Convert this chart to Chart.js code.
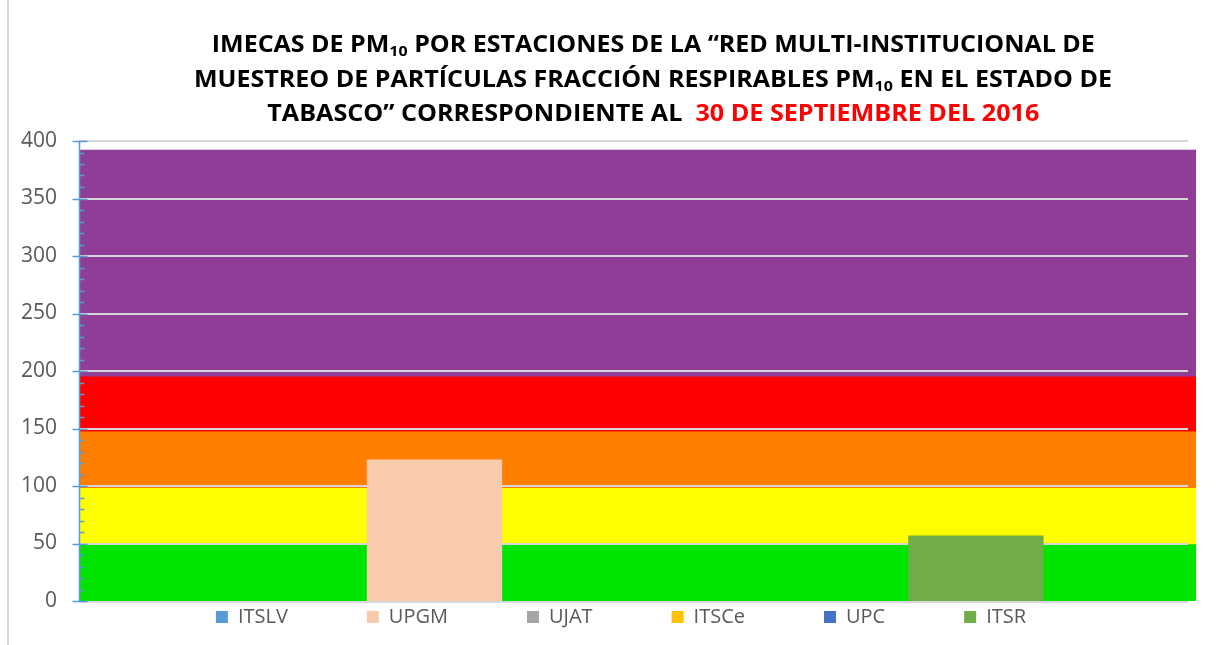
<!DOCTYPE html>
<html><head><meta charset="utf-8">
<script src="https://cdn.jsdelivr.net/npm/chart.js@4.4.1/dist/chart.umd.min.js"></script>
<style>
html,body{margin:0;padding:0;background:#fff;}
#wrap{position:relative;width:1228px;height:645px;overflow:hidden;background:#fff;}
#c{position:absolute;left:0;top:0;}
#title{position:absolute;left:78px;width:1150px;top:26px;text-align:center;font-family:"Open Sans",sans-serif;font-weight:700;font-size:23px;line-height:34.5px;color:#000;z-index:2;}
#title .ln{display:block;white-space:nowrap;}
#title .inner{display:inline-block;transform-origin:center;white-space:nowrap;}
#title sub{font-size:64%;vertical-align:-0.3em;line-height:0;}
#title .red{color:#ff0000;}
#edge{position:absolute;left:7px;top:0;width:2px;height:645px;background:#d9d9d9;z-index:2;}
</style></head>
<body>
<div id="wrap">
<canvas id="c" width="1228" height="645"></canvas>
<div id="edge"></div>
<div id="title">
<span class="ln"><span class="inner">IMECAS DE PM<sub>10</sub> POR ESTACIONES DE LA “RED MULTI-INSTITUCIONAL DE</span></span>
<span class="ln"><span class="inner">MUESTREO DE PARTÍCULAS FRACCIÓN RESPIRABLES PM<sub>10</sub> EN EL ESTADO DE</span></span>
<span class="ln"><span class="inner">TABASCO” CORRESPONDIENTE AL &nbsp;<span class="red">30 DE SEPTIEMBRE DEL 2016</span></span></span>
</div>
</div>
<script>
// ---- data ----
const categories = [''];
const stations = ['ITSLV', 'UPGM', 'UJAT', 'ITSCe', 'UPC', 'ITSR'];
const imecaValues = [0, 123, 0, 0, 0, 57];
const bandNames = ['Buena', 'Regular', 'Mala', 'Muy mala', 'Extremadamente mala'];
const bandHeights = [49, 49, 49, 48, 197];
const yTickValues = [0, 50, 100, 150, 200, 250, 300, 350, 400];

// ---- styles ----
const stationColors = ['#5B9BD5', '#F8CBAD', '#A5A5A5', '#FFC000', '#4472C4', '#70AD47'];
const bandColors = ['#00E400', '#FFFF00', '#FF7E00', '#FF0000', '#8E3E96'];
const titleWidths = [883, 918, 772];

document.querySelectorAll('#title .inner').forEach((el, i) => {
  const w = el.getBoundingClientRect().width;
  el.style.transform = 'scaleX(' + (titleWidths[i] / w) + ')';
});

const bandDatasets = bandNames.map((n, i) => ({
  label: n, data: [bandHeights[i]], backgroundColor: bandColors[i],
  xAxisID: 'x', yAxisID: 'y2', stack: 'bands', order: 10, grouped: false,
  barPercentage: 1, categoryPercentage: 1, borderWidth: 0, isBand: true
}));
const stationDatasets = stations.map((s, i) => ({
  label: s, data: [imecaValues[i]], backgroundColor: stationColors[i],
  xAxisID: 'x', yAxisID: 'y', stack: 's' + i, order: 0,
  barPercentage: 1, categoryPercentage: 0.727, borderWidth: 0
}));

const step = yTickValues[1] - yTickValues[0];
const yMax = yTickValues[yTickValues.length - 1];

const decor = {
  id: 'decor',
  afterDatasetDraw(chart, args) {
    if (args.index !== 0) return; // last band drawn -> gridlines over bands
    const {ctx, chartArea: a, scales: {y}} = chart;
    ctx.save();
    ctx.strokeStyle = '#d6d6d6';
    ctx.lineWidth = 2;
    yTickValues.forEach(v => {
      if (v === 0) return;
      const py = Math.round(y.getPixelForValue(v));
      ctx.beginPath(); ctx.moveTo(a.left, py); ctx.lineTo(a.right - 8, py); ctx.stroke();
    });
    ctx.restore();
  },
  afterDatasetsDraw(chart) {
    const {ctx, chartArea: a, scales: {y}} = chart;
    ctx.save();
    ctx.strokeStyle = '#d9d9d9'; ctx.lineWidth = 2;
    const p0 = Math.round(y.getPixelForValue(0)) + 1;
    ctx.beginPath(); ctx.moveTo(a.left, p0); ctx.lineTo(a.right - 8, p0); ctx.stroke();
    ctx.strokeStyle = '#5B9BD5'; ctx.lineWidth = 1.5;
    const ax = a.left + 0.5;
    ctx.beginPath(); ctx.moveTo(ax, y.getPixelForValue(yMax)); ctx.lineTo(ax, y.getPixelForValue(0)); ctx.stroke();
    for (let v = 0; v <= yMax; v += step / 5) {
      const py = Math.round(y.getPixelForValue(v)) + 0.5;
      ctx.beginPath();
      if (v % step === 0) { ctx.moveTo(ax - 7, py); ctx.lineTo(ax + 8, py); }
      else { ctx.moveTo(ax, py); ctx.lineTo(ax + 5, py); }
      ctx.stroke();
    }
    ctx.restore();
  },
  afterLayout(chart) {
    const lg = chart.legend;
    if (!lg) return;
    const pad = lg.options.labels.padding;
    const fs = lg.options.labels.font.size;
    lg.left = 14; lg.right = 1228; lg.width = lg.right - lg.left;
    lg.top = 617 - pad - fs / 2; lg.bottom = 645; lg.height = lg.bottom - lg.top;
  }
};

new Chart(document.getElementById('c'), {
  type: 'bar',
  data: { labels: categories, datasets: [...bandDatasets, ...stationDatasets] },
  options: {
    responsive: false, animation: false, devicePixelRatio: 1,
    layout: { padding: { left: 0, right: 32, top: 141, bottom: 0 } },
    plugins: {
      title: { display: false },
      tooltip: { enabled: false },
      legend: {
        position: 'bottom', align: 'center', maxHeight: 44,
        labels: {
          boxWidth: 12, boxHeight: 12, padding: 79, color: '#595959',
          font: { family: 'Open Sans', size: 20 },
          filter: (item, data) => !data.datasets[item.datasetIndex].isBand
        }
      }
    },
    scales: {
      x: { display: false, offset: true, stacked: false },
      y2: { display: false, stacked: true, min: 0, max: yMax },
      y: {
        min: 0, max: yMax, stacked: false,
        ticks: { stepSize: step, padding: 22, color: '#595959', font: { family: 'Open Sans', size: 21 } },
        grid: { display: false, drawTicks: false },
        border: { display: false },
        afterFit(s) { s.width = 79; }
      }
    }
  },
  plugins: [decor]
});
</script>
</body></html>
